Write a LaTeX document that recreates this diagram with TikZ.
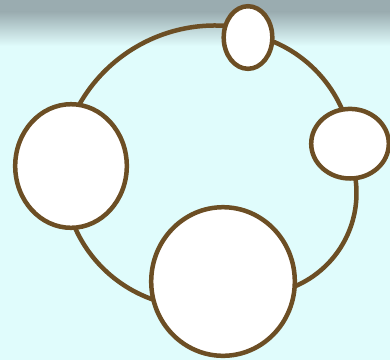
\documentclass[tikz,border=0pt]{standalone}
\usetikzlibrary{shapes.geometric,calc}
\definecolor{bgcyan}{RGB}{224,252,252}
\definecolor{bggray}{RGB}{154,172,176}
\definecolor{ringbrown}{RGB}{108,78,36}
\tikzset{
  blob/.style={ellipse, draw=ringbrown, line width=4.5pt, fill=white, inner sep=0pt, outer sep=0pt},
  ring/.style={draw=ringbrown, line width=4.5pt}
}
\begin{document}
\begin{tikzpicture}[x=1pt,y=-1pt]
\useasboundingbox (0,0) rectangle (390,360);
\fill[bgcyan] (0,0) rectangle (390,360);
\fill[bggray] (0,0) rectangle (390,12);
\shade[top color=bggray, bottom color=bgcyan] (0,11.5) rectangle (390,46);
% arc connectors (ends hidden under the ellipses)
\coordinate (cTL) at (215,181.5);
\coordinate (cTR) at (223,161.5);
\coordinate (cRB) at (255,193);
\coordinate (cBL) at (197,173.5);
\draw[ring] ($(cTL)+(-160:156)$) arc[start angle=-160, end angle=-80, radius=156];
\draw[ring] ($(cTR)+(-75:130)$) arc[start angle=-75, end angle=-15, radius=130];
\draw[ring] ($(cRB)+(-20:101.5)$) arc[start angle=-20, end angle=80, radius=101.5];
\draw[ring] ($(cBL)+(165:133.5)$) arc[start angle=165, end angle=100, radius=133.5];
% nodes
\node[blob, minimum width=48.6pt, minimum height=62.6pt] (top) at (248,37.5) {};
\node[blob, minimum width=111.6pt, minimum height=123.6pt] (left) at (71,166) {};
\node[blob, minimum width=143.6pt, minimum height=148.6pt] (bottom) at (223,281.5) {};
\node[blob, minimum width=77.6pt, minimum height=69.6pt] (right) at (350,143.7) {};
\end{tikzpicture}
\end{document}
